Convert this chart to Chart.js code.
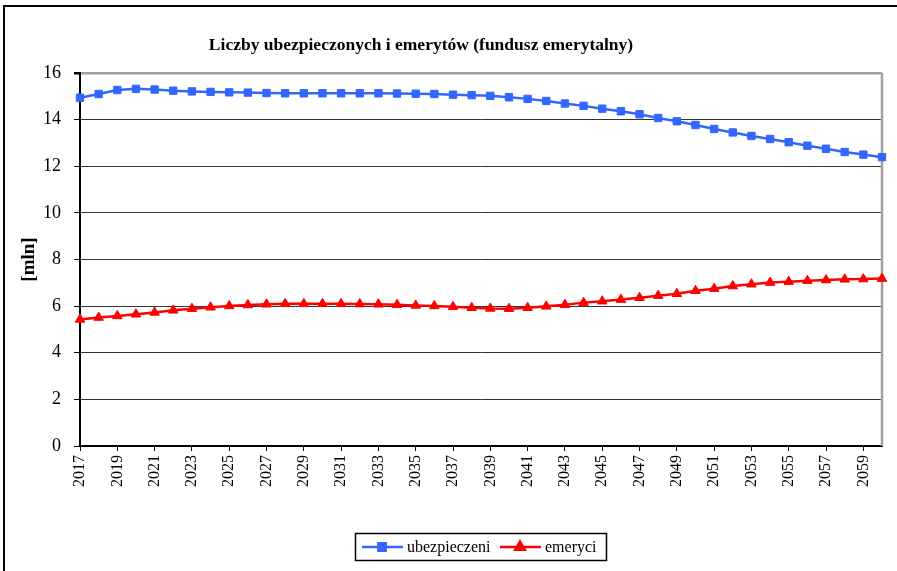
<!DOCTYPE html>
<html>
<head>
<meta charset="utf-8">
<script src="https://cdn.jsdelivr.net/npm/chart.js@4/dist/chart.umd.min.js"></script>
<style>
html, body { margin: 0; padding: 0; background: #fff; overflow: hidden; }
#wrap { width: 897px; height: 571px; }
</style>
</head>
<body>
<div id="wrap"><canvas id="wykres" width="897" height="571"></canvas></div>
<script>
// dane (mln)
const lata = ["2017","2018","2019","2020","2021","2022","2023","2024","2025","2026",
  "2027","2028","2029","2030","2031","2032","2033","2034","2035","2036",
  "2037","2038","2039","2040","2041","2042","2043","2044","2045","2046",
  "2047","2048","2049","2050","2051","2052","2053","2054","2055","2056",
  "2057","2058","2059","2060"];

const ubezpieczeni = [14.94, 15.10, 15.27, 15.32, 15.29, 15.24, 15.21, 15.19, 15.17, 15.16,
  15.14, 15.13, 15.13, 15.13, 15.13, 15.13, 15.13, 15.12, 15.11, 15.10,
  15.07, 15.05, 15.02, 14.96, 14.89, 14.80, 14.69, 14.59, 14.47, 14.36,
  14.23, 14.07, 13.93, 13.77, 13.60, 13.45, 13.30, 13.17, 13.03, 12.88,
  12.75, 12.61, 12.50, 12.39];

const emeryci = [5.43, 5.51, 5.58, 5.65, 5.73, 5.82, 5.89, 5.95, 6.01, 6.05,
  6.08, 6.10, 6.10, 6.10, 6.10, 6.09, 6.08, 6.06, 6.03, 6.01,
  5.97, 5.93, 5.90, 5.89, 5.93, 5.99, 6.06, 6.15, 6.21, 6.28,
  6.36, 6.45, 6.53, 6.66, 6.75, 6.86, 6.94, 7.01, 7.05, 7.09,
  7.12, 7.15, 7.16, 7.18];

const tytul = "Liczby ubezpieczonych i emerytów (fundusz emerytalny)";
const tytulOsiY = "[mln]";
const osYmin = 0, osYmax = 16, osYkrok = 2;

const SERIF = "'Liberation Serif', 'Times New Roman', serif";

// ramka, tytuł, prawa krawędź i legenda w ramce
const dodatki = {
  id: "dodatki",
  beforeDraw(chart) {
    const ctx = chart.ctx;
    ctx.save();
    ctx.fillStyle = "#fff";
    ctx.fillRect(0, 0, chart.width, chart.height);
    ctx.strokeStyle = "#000";
    ctx.lineWidth = 2;
    ctx.strokeRect(4, 6, 1000, 1000);
    ctx.restore();
  },
  beforeDatasetsDraw(chart) {
    const ctx = chart.ctx;
    const a = chart.chartArea;
    ctx.save();
    ctx.strokeStyle = "#a0a0a0";
    ctx.lineWidth = 2.5;
    ctx.beginPath();
    ctx.moveTo(a.right, a.top);
    ctx.lineTo(a.right, a.bottom);
    ctx.stroke();
    ctx.restore();
  },
  afterDraw(chart) {
    const ctx = chart.ctx;
    ctx.save();
    // tytuł
    ctx.fillStyle = "#000";
    ctx.font = "bold 17.5px " + SERIF;
    ctx.textAlign = "center";
    ctx.textBaseline = "middle";
    ctx.fillText(tytul, 421, 45);

    // legenda
    ctx.strokeStyle = "#000";
    ctx.lineWidth = 1.5;
    ctx.strokeRect(355.5, 533.5, 251, 27);
    const pozycje = [362, 500];
    ctx.font = "16px " + SERIF;
    ctx.textAlign = "left";
    chart.data.datasets.forEach((ds, i) => {
      const x0 = pozycje[i], y = 547;
      ctx.strokeStyle = ds.borderColor;
      ctx.lineWidth = ds.borderWidth;
      ctx.beginPath();
      ctx.moveTo(x0, y);
      ctx.lineTo(x0 + 41, y);
      ctx.stroke();
      ctx.fillStyle = ds.pointBackgroundColor;
      ctx.strokeStyle = ds.pointBorderColor;
      Chart.helpers.drawPoint(ctx, {
        pointStyle: ds.pointStyle, radius: ds.pointRadius, rotation: 0, borderWidth: 1
      }, x0 + 20, y);
      ctx.fillStyle = "#000";
      ctx.fillText(ds.label, x0 + 45, y + 1);
    });
    ctx.restore();
  }
};

new Chart(document.getElementById("wykres"), {
  type: "line",
  data: {
    labels: lata,
    datasets: [{
      label: "ubezpieczeni",
      data: ubezpieczeni,
      borderColor: "#3366ff",
      borderWidth: 2.5,
      pointStyle: "rect",
      pointRadius: 5.2,
      pointBackgroundColor: "#3366ff",
      pointBorderColor: "#3366ff",
      pointBorderWidth: 1,
      tension: 0
    }, {
      label: "emeryci",
      data: emeryci,
      borderColor: "#ff0000",
      borderWidth: 2.5,
      pointStyle: "triangle",
      pointRadius: 5.5,
      pointBackgroundColor: "#ff0000",
      pointBorderColor: "#ff0000",
      pointBorderWidth: 1,
      tension: 0
    }]
  },
  options: {
    responsive: false,
    animation: false,
    devicePixelRatio: 1,
    layout: { padding: { left: 0, top: 73, right: 15, bottom: 0 } },
    plugins: {
      legend: { display: false },
      title: { display: false },
      tooltip: { enabled: false }
    },
    scales: {
      x: {
        offset: false,
        grid: {
          drawOnChartArea: false,
          drawTicks: true,
          tickLength: 5,
          tickColor: "#000"
        },
        border: { display: true, color: "#000", width: 2 },
        ticks: {
          autoSkip: false,
          minRotation: 90,
          maxRotation: 90,
          padding: 4,
          color: "#000",
          font: { family: SERIF, size: 16 },
          callback: function (v, i) { return i % 2 === 0 ? lata[i] : null; }
        },
        afterFit(scale) { scale.height = 125; }
      },
      y: {
        min: osYmin,
        max: osYmax,
        grid: {
          drawTicks: true,
          tickLength: 6,
          tickColor: "#000",
          color: (c) => c.tick && c.tick.value === osYmax ? "#a0a0a0" : "#333",
          lineWidth: (c) => c.tick && c.tick.value === osYmax ? 2.5 : 1
        },
        border: { display: true, color: "#000", width: 2 },
        ticks: {
          stepSize: osYkrok,
          padding: 13,
          color: "#000",
          font: { family: SERIF, size: 18 }
        },
        title: {
          display: true,
          text: tytulOsiY,
          color: "#000",
          font: { family: SERIF, size: 19, weight: "bold" },
          padding: { top: 18, bottom: 0 }
        },
        afterFit(scale) { scale.width = 80; }
      }
    }
  },
  plugins: [dodatki]
});
</script>
</body>
</html>
